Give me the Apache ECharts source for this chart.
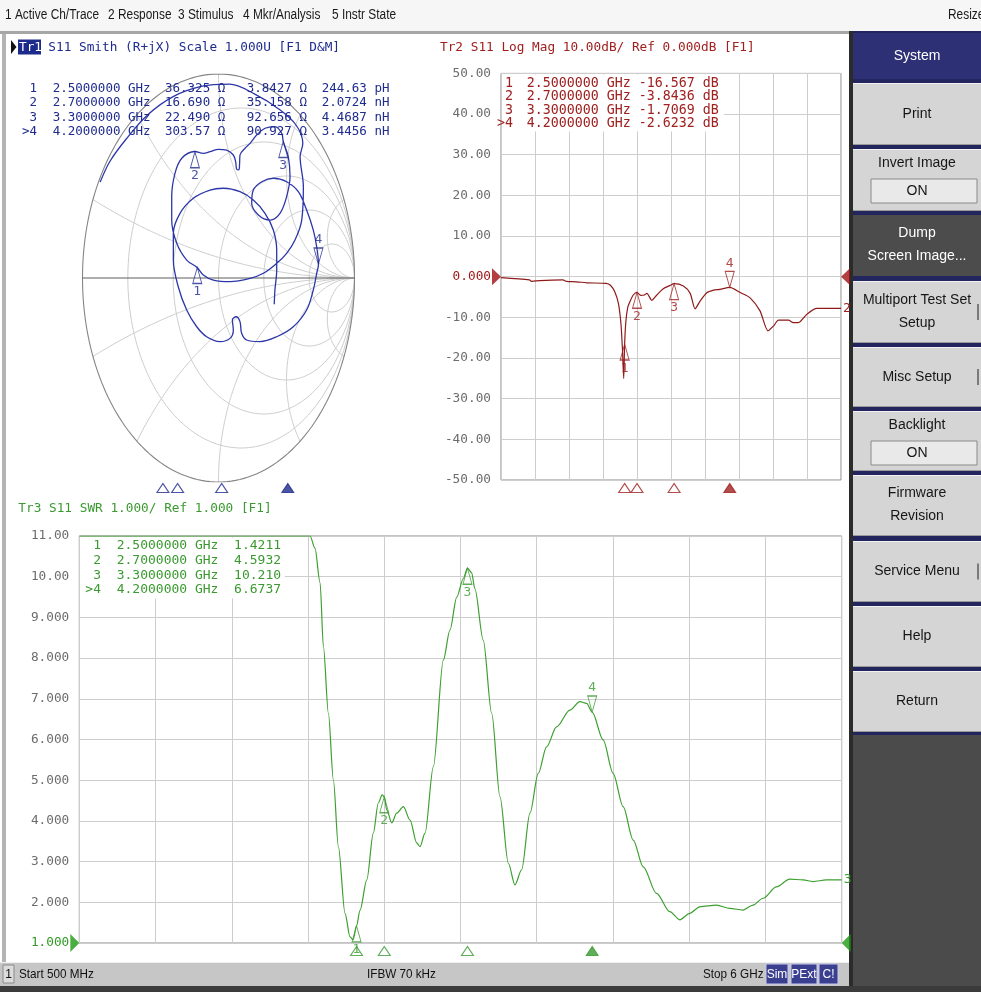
<!DOCTYPE html>
<html><head><meta charset="utf-8">
<script src="https://cdn.jsdelivr.net/npm/echarts@6/dist/echarts.min.js"></script>
<style>html,body{margin:0;padding:0;background:#fff;}#c{width:981px;height:992px;}</style>
</head><body><div id="c"></div>
<script>
// ---------------- data ----------------
const freqStart = 0.5, freqStop = 6.0;               // GHz
const markerNames = ['1', '2', '3', '>4'];
const markerFreqs = [2.5, 2.7, 3.3, 4.2];             // GHz
const markerFreqText = ['2.5000000', '2.7000000', '3.3000000', '4.2000000'];
const activeMarker = 3;

// Tr1 Smith chart (reflection coefficient, re / im)
const smithTrace = [
  [-0.87,0.47],[-0.80,0.57],[-0.68,0.68],[-0.52,0.80],[-0.33,0.89],[-0.12,0.94],[0.08,0.95],[0.27,0.90],
  [0.44,0.83],[0.57,0.75],[0.62,0.66],[0.60,0.595],[0.624,0.448],[0.612,0.284],[0.5625,0.186],[0.501,0.121],
  [0.428,0.072],[0.33,0.023],[0.232,-0.002],[0.085,-0.018],[-0.038,-0.01],[-0.112,0.015],[-0.157,0.052],
  [-0.234,0.088],[-0.307,0.17],[-0.344,0.284],[-0.344,0.399],[-0.32,0.513],[-0.27,0.587],[-0.175,0.62],
  [-0.112,0.611],[-0.0625,0.619],[0,0.631],[0.06,0.627],[0.109,0.603],[0.126,0.570],[0.134,0.533],
  [0.15,0.53],[0.155,0.56],[0.158,0.603],[0.195,0.636],[0.232,0.66],[0.281,0.701],[0.342,0.734],
  [0.415,0.742],[0.465,0.709],[0.476,0.669],[0.513,0.595],[0.526,0.497],[0.501,0.399],[0.452,0.317],
  [0.379,0.284],[0.293,0.309],[0.244,0.366],[0.256,0.431],[0.318,0.472],[0.403,0.489],[0.501,0.472],
  [0.587,0.423],[0.648,0.333],[0.697,0.235],[0.722,0.153],[0.735,0.068],[0.722,0.023],[0.697,-0.059],
  [0.648,-0.157],[0.55,-0.239],[0.428,-0.288],[0.305,-0.312],[0.207,-0.304],[0.170,-0.271],[0.158,-0.214],
  [0.129,-0.19],[0.102,-0.206],[0.109,-0.255],[0.085,-0.296],[0.011,-0.312],[-0.087,-0.288],[-0.16,-0.239],
  [-0.234,-0.157],[-0.296,-0.043],[-0.332,0.088],[-0.332,0.219],[-0.283,0.317],[-0.185,0.391],
  [-0.0625,0.431],[0.035,0.44],[0.158,0.423],[0.256,0.382],[0.342,0.317],[0.403,0.235],[0.428,0.137],
  [0.428,0.039],[0.415,-0.059],[0.41,-0.129]
];
const smithMarkerR = [36.325, 16.690, 22.490, 303.57];      // ohm
const smithMarkerX = [3.8427, 35.158, 92.656, 90.927];      // ohm
const smithMarkerRText = ['36.325', '16.690', '22.490', '303.57'];
const smithMarkerXText = ['3.8427', '35.158', '92.656', '90.927'];
const smithMarkerLText = ['244.63 pH', '2.0724 nH', '4.4687 nH', '3.4456 nH'];
const smithZ0 = 50;
const smithR = [0.2, 0.5, 1, 2, 5];
const smithX = [0.2, 0.5, 1, 2, 5, -0.2, -0.5, -1, -2, -5];

// Tr2 Log Mag (GHz, dB)
const logMagTrace = [
  [0.5,-0.25],[0.96,-0.8],[1.0,-1.15],[1.13,-0.95],[1.5,-0.8],[1.56,-1.15],[1.72,-1.25],[1.89,-1.5],
  [2.2,-1.65],[2.27,-2.1],[2.34,-3.7],[2.4,-6.6],[2.44,-11.5],[2.465,-18],[2.485,-25],[2.5,-16.567],
  [2.52,-11],[2.55,-7.6],[2.59,-6.0],[2.64,-4.5],[2.7,-3.8436],[2.76,-4.6],[2.82,-4.5],[2.86,-4.1],
  [2.94,-5.8],[3.02,-4.5],[3.13,-2.9],[3.23,-2.2],[3.3,-1.7069],[3.45,-2.3],[3.56,-4.1],[3.64,-7.9],
  [3.72,-6.0],[3.83,-3.95],[3.94,-3.3],[4.04,-3.1],[4.2,-2.6232],[4.37,-3.9],[4.53,-5.2],[4.69,-8.4],
  [4.82,-13.3],[4.91,-12.1],[4.99,-10.7],[5.15,-10.7],[5.23,-11.3],[5.31,-11.3],[5.45,-9.2],[5.61,-7.8],
  [6.0,-7.8]
];
const logMagMarkerVals = [-16.567, -3.8436, -1.7069, -2.6232];
const logMagMarkerText = ['-16.567', '-3.8436', '-1.7069', '-2.6232'];
const logMagTickLabels = ['-50.00','-40.00','-30.00','-20.00','-10.00','0.000','10.00','20.00','30.00','40.00','50.00'];
const logMagMin = -50, logMagMax = 50, logMagStep = 10, logMagRef = 0;

// Tr3 SWR (GHz, SWR) - values above 11 are drawn at the top edge as on screen
const swrTrace = [
  [0.5,11],[2.165,11],[2.2,10.7],[2.237,9.85],[2.261,8.28],[2.297,6.64],[2.333,5.0],[2.369,3.37],
  [2.417,1.73],[2.453,1.15],[2.475,1.08],[2.5,1.4211],[2.525,1.8],[2.574,2.55],[2.621,3.7],[2.657,4.44],
  [2.685,4.64],[2.7,4.5932],[2.718,4.27],[2.754,3.95],[2.79,4.19],[2.838,4.35],[2.886,4.02],[2.934,3.46],
  [2.958,3.37],[2.994,3.7],[3.054,5.33],[3.126,7.95],[3.174,8.69],[3.223,9.5],[3.27,9.95],[3.3,10.21],
  [3.33,10.1],[3.354,9.7],[3.414,8.44],[3.475,6.64],[3.535,4.59],[3.595,2.96],[3.643,2.43],[3.691,2.8],
  [3.751,4.19],[3.811,5.17],[3.871,5.82],[3.943,6.31],[4.039,6.72],[4.111,6.93],[4.16,6.89],[4.2,6.6737],
  [4.279,5.99],[4.351,5.17],[4.423,4.35],[4.496,3.53],[4.568,2.87],[4.664,2.22],[4.76,1.77],[4.832,1.57],
  [4.904,1.73],[4.976,1.89],[5.097,1.93],[5.193,1.85],[5.288,1.81],[5.36,1.93],[5.433,2.1],[5.529,2.38],
  [5.625,2.57],[5.721,2.55],[5.793,2.51],[5.89,2.55],[6.0,2.55]
];
const swrMarkerVals = [1.4211, 4.5932, 10.210, 6.6737];
const swrMarkerText = ['1.4211', '4.5932', '10.210', '6.6737'];
const swrTickLabels = ['1.000','2.000','3.000','4.000','5.000','6.000','7.000','8.000','9.000','10.00','11.00'];
const swrMin = 1, swrMax = 11, swrStep = 1, swrRef = 1;

// ---------------- styles ----------------
const MONO = '"DejaVu Sans Mono","Liberation Mono",monospace';
const SANS = '"Liberation Sans",Arial,sans-serif';
const C1 = '#2c36a8', C1T = '#1f2b8e';
const C2 = '#8e1a1a', C2T = '#a01f1f';
const C3 = '#3d9f30', C3T = '#3a9a30';
const GRIDC = '#cdcdcd';
const TRI_UP = 'path://M5,0 L10,18 L0,18 Z';
const TRI_DOWN = 'path://M0,0 L10,0 L5,18 Z';
const TRI_RIGHT = 'path://M0,0 L10,9 L0,18 Z';
const TRI_LEFT = 'path://M10,0 L0,9 L10,18 Z';

// ---------------- smith helpers ----------------
function zToGamma(R, X) {
  const r = R / smithZ0, x = X / smithZ0;
  const d = (r + 1) * (r + 1) + x * x;
  return [(r * r - 1 + x * x) / d, 2 * x / d];
}
function rCircle(r) {
  const c = r / (1 + r), a = 1 / (1 + r), pts = [];
  for (let i = 0; i <= 200; i++) { const t = i / 200 * 2 * Math.PI; pts.push([c + a * Math.cos(t), a * Math.sin(t)]); }
  return pts;
}
function xArc(x) {
  const pts = [];
  for (let i = 0; i <= 220; i++) {
    const r = Math.tan(i / 220 * Math.PI / 2 * 0.997);
    const d = (r + 1) * (r + 1) + x * x;
    pts.push([(r * r - 1 + x * x) / d, 2 * x / d]);
  }
  pts.push([1, 0]);
  return pts;
}

const series = [];
smithR.forEach(r => series.push({type:'line', xAxisIndex:0, yAxisIndex:0, data:rCircle(r), symbol:'none', silent:true,
  lineStyle:{color:GRIDC, width:1}, z:1}));
smithX.forEach(x => series.push({type:'line', xAxisIndex:0, yAxisIndex:0, data:xArc(x), symbol:'none', silent:true,
  lineStyle:{color:GRIDC, width:1}, z:1}));
series.push({type:'line', xAxisIndex:0, yAxisIndex:0, data:rCircle(0), symbol:'none', silent:true, lineStyle:{color:'#858585', width:1.1}, z:1});
series.push({type:'line', xAxisIndex:0, yAxisIndex:0, data:[[-1,0],[1,0]], symbol:'none', silent:true, lineStyle:{color:'#5e5e5e', width:1.2}, z:1});
series.push({type:'line', xAxisIndex:0, yAxisIndex:0, data:smithTrace, symbol:'none', smooth:0.35, silent:true,
  lineStyle:{color:C1, width:1.3}, z:3});

function traceMarkers(points, color) {
  return points.map((p, i) => {
    const act = i === activeMarker;
    return {
      value: p, name: String(i + 1),
      symbol: act ? TRI_DOWN : TRI_UP,
      symbolSize: [9, 16],
      symbolOffset: [0, act ? -8 : 8],
      label: {show:true, formatter:String(i + 1), position: act ? 'top' : 'bottom', distance: 1,
        color: color, fontFamily: MONO, fontSize: 13}
    };
  });
}
const hollow = c => ({color:'rgba(255,255,255,0)', borderColor:c, borderWidth:1.1});

series.push({type:'scatter', xAxisIndex:0, yAxisIndex:0, silent:true, z:5, clip:false,
  data: traceMarkers(smithMarkerR.map((R, i) => zToGamma(R, smithMarkerX[i])), C1T), itemStyle: hollow(C1T)});

function stimMarkers(yVal, color, offY) {
  return markerFreqs.map((f, i) => ({
    value: [f, yVal], symbol: TRI_UP, symbolSize: [12, 9], symbolOffset: [0, offY],
    itemStyle: i === activeMarker ? {color: color, borderColor: color, borderWidth: 1} : hollow(color)
  }));
}
series.push({type:'scatter', xAxisIndex:1, yAxisIndex:1, silent:true, z:5, clip:false, data: stimMarkers(0.5, C1T, 0)});

// Log mag
series.push({type:'line', xAxisIndex:2, yAxisIndex:2, data:logMagTrace, symbol:'none', smooth:0.25, silent:true,
  lineStyle:{color:C2, width:1.2}, z:3,
  endLabel:{show:true, formatter:'2', color:C2T, fontFamily:MONO, fontSize:13, distance:2}});
series.push({type:'scatter', xAxisIndex:2, yAxisIndex:2, silent:true, z:5, clip:false,
  data: traceMarkers(markerFreqs.map((f, i) => [f, logMagMarkerVals[i]]), C2T), itemStyle: hollow(C2T)});
series.push({type:'scatter', xAxisIndex:2, yAxisIndex:2, silent:true, z:5, clip:false, data: stimMarkers(logMagMin, C2T, 8)});
series.push({type:'scatter', xAxisIndex:2, yAxisIndex:2, silent:true, z:5, clip:false,
  data:[{value:[freqStart, logMagRef], symbol:TRI_RIGHT, symbolSize:[9,17], symbolOffset:[-4.5,0]},
        {value:[freqStop, logMagRef], symbol:TRI_LEFT, symbolSize:[9,17], symbolOffset:[4.5,0]}],
  itemStyle:{color:'#a01010'}});

// SWR
series.push({type:'line', xAxisIndex:4, yAxisIndex:3, data:swrTrace, symbol:'none', smooth:0.3, smoothMonotone:'x', silent:true,
  lineStyle:{color:C3, width:1.2}, z:3,
  endLabel:{show:true, formatter:'3', color:C3T, fontFamily:MONO, fontSize:13, distance:2}});
series.push({type:'scatter', xAxisIndex:4, yAxisIndex:3, silent:true, z:5, clip:false,
  data: traceMarkers(markerFreqs.map((f, i) => [f, swrMarkerVals[i]]), C3T), itemStyle: hollow(C3T)});
series.push({type:'scatter', xAxisIndex:4, yAxisIndex:3, silent:true, z:5, clip:false, data: stimMarkers(swrMin, C3T, 8)});
series.push({type:'scatter', xAxisIndex:4, yAxisIndex:3, silent:true, z:5, clip:false,
  data:[{value:[freqStart, swrRef], symbol:TRI_RIGHT, symbolSize:[9,18], symbolOffset:[-4.5,0]},
        {value:[freqStop, swrRef], symbol:TRI_LEFT, symbolSize:[9,18], symbolOffset:[4.5,0]}],
  itemStyle:{color:'#1f9a10'}});

// ---------------- graphic (screen frame, texts) ----------------
const G = [];
function rect(x, y, w, h, fill, stroke, z) {
  G.push({type:'rect', z: z || 0, silent:true, shape:{x, y, width:w, height:h},
    style:{fill: fill, stroke: stroke || null, lineWidth: stroke ? 1 : 0}});
}
function txt(x, y, text, size, fill, font, align, z) {
  G.push({type:'text', z: z || 10, silent:true,
    style:{x, y, text, fill, font: size + 'px ' + font, textAlign: align || 'left', textVerticalAlign:'middle', verticalAlign:'middle'}});
}
// condensed screen font: same horizontal squeeze for every item
function txtNarrow(x, y, text, size, fill, font, sx) {
  G.push({type:'text', z: 10, silent:true, x: x, y: y, scaleX: sx, originX: 0, originY: 0,
    style:{x:0, y:0, text, fill, font: size + 'px ' + font, textAlign:'left', textVerticalAlign:'middle', verticalAlign:'middle'}});
}
// menu bar
rect(0, 0, 981, 31, '#f6f6f6');
[['1 Active Ch/Trace',5],['2 Response',108],['3 Stimulus',178],['4 Mkr/Analysis',243],['5 Instr State',332],['Resize',948]]
  .forEach(m => txtNarrow(m[1], 15, m[0], 14, '#1a1a1a', SANS, 0.85));
rect(0, 31, 850, 3, '#a6a6a6');
rect(2, 34, 4, 928, '#b4b4b4');
rect(849, 31, 4, 961, '#2b2b2b');
// right panel
rect(853, 31, 128, 705, '#23265e');
rect(853, 735, 128, 257, '#4b4b4b');
const panelButtons = [
  {lines:['System'], y0:33, y1:79, kind:'title'},
  {lines:['Print'], y0:83, y1:145},
  {lines:['Invert Image'], y0:149, y1:211, toggle:'ON'},
  {lines:['Dump','Screen Image...'], y0:215, y1:276, kind:'dark'},
  {lines:['Multiport Test Set','Setup'], y0:281, y1:343, sub:true},
  {lines:['Misc Setup'], y0:347, y1:407, sub:true},
  {lines:['Backlight'], y0:411, y1:471, toggle:'ON'},
  {lines:['Firmware','Revision'], y0:475, y1:536},
  {lines:['Service Menu'], y0:541, y1:602, sub:true},
  {lines:['Help'], y0:606, y1:667},
  {lines:['Return'], y0:671, y1:732}
];
panelButtons.forEach(b => {
  const fill = b.kind === 'title' ? '#2d3075' : b.kind === 'dark' ? '#4c4c4c' : '#d5d5d5';
  const tc = b.kind ? '#ffffff' : '#161616';
  rect(853, b.y0, 128, b.y1 - b.y0, fill);
  if (!b.kind) { rect(853, b.y0, 128, 1, '#f2f2f2'); rect(853, b.y1 - 1, 128, 1, '#9a9a9a'); }
  const cx = 917;
  if (b.toggle) {
    txt(cx, b.y0 + 14, b.lines[0], 14, tc, SANS, 'center');
    rect(871, b.y0 + 30, 106, 24, '#e9e9e9', '#8a8a8a');
    txt(cx, b.y0 + 42, b.toggle, 14, tc, SANS, 'center');
  } else if (b.lines.length === 2) {
    const m = (b.y0 + b.y1) / 2;
    txt(cx, m - 12, b.lines[0], 14, tc, SANS, 'center');
    txt(cx, m + 11, b.lines[1], 14, tc, SANS, 'center');
  } else {
    txt(cx, (b.y0 + b.y1) / 2, b.lines[0], 14, tc, SANS, 'center');
  }
  if (b.sub) rect(977, (b.y0 + b.y1) / 2 - 8, 2, 16, '#7a7a7a');
});
// status bar
rect(0, 962, 849, 24, '#c6c6c6');
rect(0, 962, 849, 1, '#efefef');
rect(0, 986, 981, 6, '#3b3b3b');
rect(3, 965, 11, 18, '#dcdcdc', '#8a8a8a');
txt(8.5, 974.5, '1', 12, '#111', SANS, 'center');
txtNarrow(19, 974.5, 'Start 500 MHz', 13, '#111', SANS, 0.9);
txtNarrow(367, 974.5, 'IFBW 70 kHz', 13, '#111', SANS, 0.9);
txtNarrow(703, 974.5, 'Stop 6 GHz', 13, '#111', SANS, 0.9);
[['Sim',766,22],['PExt',791,26],['C!',819,19]].forEach(s => {
  rect(s[1], 964, s[2], 20, '#3b3f8f', '#c9c9ee');
  txt(s[1] + s[2] / 2, 974.5, s[0], 12, '#ffffff', SANS, 'center');
});

// Tr1 header
G.push({type:'polygon', z:10, silent:true, shape:{points:[[11,40],[16.5,47],[11,54]]}, style:{fill:'#111'}});
rect(18, 39.5, 23, 15, '#1c2a8c', null, 9);
txt(19, 47.5, 'Tr1', 12.75, '#ffffff', MONO);
txt(48.3, 47.5, 'S11 Smith (R+jX) Scale 1.000U [F1 D&M]', 12.75, C1T, MONO);
const smithRows = [88.5, 103, 117.5, 132];
markerNames.forEach((n, i) => {
  const y = smithRows[i];
  txt(37, y, n, 12.5, C1T, MONO, 'right');
  txt(52.7, y, markerFreqText[i] + ' GHz', 12.5, C1T, MONO);
  txt(165, y, smithMarkerRText[i] + ' Ω', 12.5, C1T, MONO);
  txt(246.7, y, smithMarkerXText[i] + ' Ω', 12.5, C1T, MONO);
  txt(321.7, y, smithMarkerLText[i], 12.5, C1T, MONO);
});
// Tr2 header + table
txt(440, 47.5, 'Tr2 S11 Log Mag 10.00dB/ Ref 0.000dB [F1]', 12.75, C2T, MONO);
rect(502, 74.5, 222, 57, '#ffffff', null, 1);
const logRows = [83.5, 97, 110.5, 124];
markerNames.forEach((n, i) => {
  txt(513, logRows[i], n, 13.3, C2T, MONO, 'right');
  txt(526.7, logRows[i], markerFreqText[i] + ' GHz ' + logMagMarkerText[i] + ' dB', 13.3, C2T, MONO);
});
// Tr3 header + table
txt(18.3, 508.5, 'Tr3 S11 SWR 1.000/ Ref 1.000 [F1]', 12.75, C3T, MONO);
rect(80, 537.5, 205, 61, '#ffffff', null, 1);
const swrRows = [546, 561, 575.5, 590];
markerNames.forEach((n, i) => {
  txt(101, swrRows[i], n, 13, C3T, MONO, 'right');
  txt(116.7, swrRows[i], markerFreqText[i] + ' GHz  ' + swrMarkerText[i], 13, C3T, MONO);
});

// ---------------- axes ----------------
const hiddenAxis = (grid, min, max) => ({gridIndex:grid, type:'value', min, max, show:false});
const divAxis = grid => ({gridIndex:grid, type:'value', min:0, max:10, interval:1, position:'top',
  axisLine:{show:false}, axisTick:{show:false}, axisLabel:{show:false},
  splitLine:{show:true, lineStyle:{color:GRIDC, width:1}}});
function valueAxis(grid, min, max, step, labels, refVal, refColor) {
  return {gridIndex:grid, type:'value', min, max, interval:step,
    axisLine:{show:false}, axisTick:{show:false},
    splitLine:{show:true, lineStyle:{color:GRIDC, width:1}},
    axisLabel:{show:true, margin:10, color:'#6c6c6c', fontFamily:MONO, fontSize:12.75,
      formatter: v => { const t = labels[Math.round((v - min) / step)]; return Math.abs(v - refVal) < 1e-9 ? '{r|' + t + '}' : t; },
      rich:{r:{color:refColor, fontFamily:MONO, fontSize:12.75}}}};
}

const option = {
  animation: false,
  backgroundColor: '#ffffff',
  textStyle: {fontFamily: MONO},
  grid: [
    {left:82.5, top:74, width:272, height:408, show:false, outerBoundsMode:'none'},
    {left:16, top:483, width:404, height:10, show:false, outerBoundsMode:'none'},
    {left:501, top:73.4, width:340, height:406.6, show:true, borderColor:'#8a8a8a', borderWidth:1, outerBoundsMode:'none'},
    {left:79.3, top:536, width:762.4, height:407, show:true, borderColor:'#8a8a8a', borderWidth:1, outerBoundsMode:'none'}
  ],
  xAxis: [hiddenAxis(0, -1, 1), hiddenAxis(1, freqStart, freqStop), hiddenAxis(2, freqStart, freqStop), divAxis(2),
          hiddenAxis(3, freqStart, freqStop), divAxis(3)],
  yAxis: [hiddenAxis(0, -1, 1), hiddenAxis(1, 0, 1),
          valueAxis(2, logMagMin, logMagMax, logMagStep, logMagTickLabels, logMagRef, '#a01818'),
          valueAxis(3, swrMin, swrMax, swrStep, swrTickLabels, swrRef, '#2f9a22')],
  series: series,
  graphic: {elements: G}
};
const chart = echarts.init(document.getElementById('c'), null, {renderer:'canvas', width:981, height:992});
chart.setOption(option);
</script></body></html>
